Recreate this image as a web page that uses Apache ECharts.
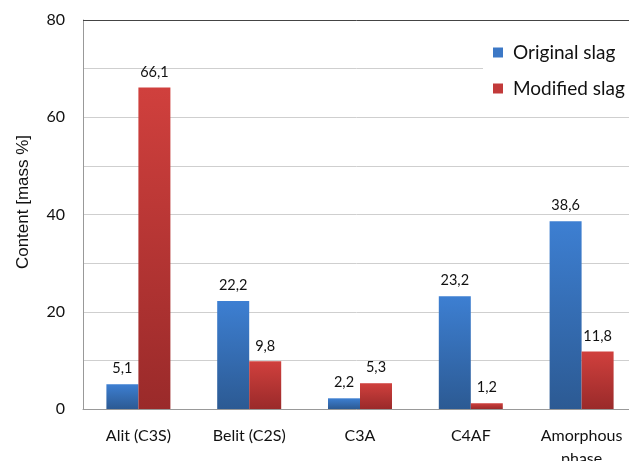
<!DOCTYPE html>
<html>
<head>
<meta charset="utf-8">
<script src="https://cdn.jsdelivr.net/npm/echarts@6/dist/echarts.min.js"></script>
<style>
  html, body { margin: 0; padding: 0; background: #fff; }
  #chart { width: 629px; height: 461px; }
</style>
</head>
<body>
<div id="chart"></div>
<script>
// Phase composition of the slags
const categories = ['Alit (C3S)', 'Belit (C2S)', 'C3A', 'C4AF', 'Amorphous\nphase'];
const originalSlag = [5.1, 22.2, 2.2, 23.2, 38.6];
const modifiedSlag = [66.1, 9.8, 5.3, 1.2, 11.8];
const yTicks = [0, 20, 40, 60, 80];

const FONT = 'Lato, "Open Sans", sans-serif';
const fmt = v => String(v).replace('.', ',');

function grad(top, bottom) {
  return new echarts.graphic.LinearGradient(0, 0, 0, 1, [
    { offset: 0, color: top },
    { offset: 1, color: bottom }
  ]);
}

const chart = echarts.init(document.getElementById('chart'), null, { renderer: 'canvas' });

const barLabel = {
  show: true,
  position: 'top',
  distance: 8,
  color: '#111',
  fontFamily: FONT,
  fontSize: 14.5,
  formatter: p => fmt(p.value)
};

chart.setOption({
  animation: false,
  grid: { left: 83, right: -8, top: 20, bottom: 52, containLabel: false, outerBoundsMode: 'none' },
  legend: {
    orient: 'vertical',
    left: 483,
    top: 33,
    backgroundColor: '#fff',
    padding: [10, 10, 12, 10],
    itemWidth: 10,
    itemHeight: 10,
    itemGap: 17,
    icon: 'rect',
    textStyle: { fontFamily: FONT, fontSize: 19, color: '#111', padding: [0, 0, 0, 5] },
    data: [
      { name: 'Original slag', itemStyle: { color: '#3c78c6' } },
      { name: 'Modified slag', itemStyle: { color: '#c23a3a' } }
    ]
  },
  xAxis: {
    type: 'category',
    data: categories,
    axisLine: { lineStyle: { color: '#999' } },
    axisTick: { show: false },
    axisLabel: {
      color: '#111', fontFamily: FONT, fontSize: 16, margin: 15, lineHeight: 23, interval: 0
    }
  },
  yAxis: {
    type: 'value',
    min: 0,
    max: 80,
    interval: 10,
    name: 'Content [mass %]',
    nameLocation: 'middle',
    nameGap: 51,
    nameRotate: 90,
    nameTextStyle: {
      color: '#111', fontFamily: 'Liberation Sans', fontSize: 17,
      padding: [0, 0, 0, 25]
    },
    axisLine: { show: true, lineStyle: { color: '#999' } },
    axisTick: { show: false },
    axisLabel: {
      color: '#111', fontFamily: FONT, fontSize: 16, margin: 18,
      formatter: v => (yTicks.indexOf(v) >= 0 ? String(v) : '')
    },
    splitLine: { lineStyle: { color: '#cfcfcf', width: 1 } }
  },
  series: [
    {
      name: 'Original slag',
      type: 'bar',
      data: originalSlag,
      barWidth: 32,
      barGap: '0%',
      itemStyle: { color: grad('#3d7fd2', '#2c5a93') },
      label: barLabel,
      markLine: {
        silent: true,
        symbol: 'none',
        label: { show: false },
        lineStyle: { color: '#444', type: 'solid', width: 1 },
        data: [{ yAxis: 80 }]
      }
    },
    {
      name: 'Modified slag',
      type: 'bar',
      data: modifiedSlag,
      barWidth: 32,
      barGap: '0%',
      itemStyle: { color: grad('#d0403d', '#9a2a2a') },
      label: barLabel
    }
  ]
});
</script>
</body>
</html>
